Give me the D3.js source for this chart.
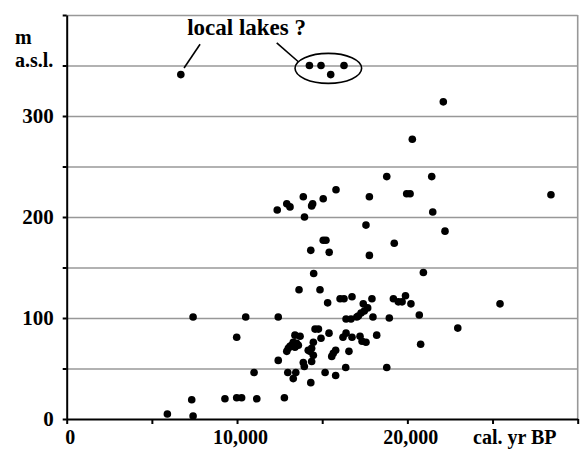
<!DOCTYPE html>
<meta charset="utf-8">
<script src="https://d3js.org/d3.v7.min.js"></script>
<style>
body { margin: 0; background: #fff; }
svg { font-family: "Liberation Serif", "Times New Roman", serif; font-weight: bold; }
.grid line { stroke: #989898; stroke-width: 1.6; }
.grid path { display: none; }
.axis path, .axis line { stroke: #000; stroke-width: 2; }
.axis text { font-family: "Liberation Serif", serif; font-size: 21px; font-weight: bold; fill: #000; }
.label { font-size: 20px; fill: #000; }
</style>
<body>
<div id="chart"></div>
<script>

// cal. yr BP of each sample
var ages = [
  6700, 14250, 14930, 15500, 16280, 22110, 20290, 18790, 21430, 19960,
  20160, 28430, 21490, 22210, 19230, 20940, 12360, 12920, 13110, 13890,
  14380, 14440, 15060, 15810, 17770, 13960, 17570, 15060, 15220, 14330,
  15410, 17770, 14500, 13640, 14870, 15320, 16050, 16280, 16750, 17920,
  17410, 17670, 17470, 17280, 17120, 17030, 19180, 19470, 19690, 19890,
  20210, 25440, 18940, 20700, 22960, 20780, 18790, 17980, 16400, 16690,
  16220, 16400, 16750, 17220, 17340, 17570, 18200, 14930, 15400, 14580,
  14780, 13400, 13700, 13300, 13500, 13210, 13110, 13010, 12920, 13400,
  13600, 14480, 14380, 14280, 14180, 14480, 14380, 13890, 13950, 12420,
  15790, 15650, 15560, 16570, 12980, 13450, 13300, 15170, 15790, 14330,
  12780, 16380, 12420, 10510, 7420, 9980, 11000, 9290, 9980, 10270,
  11160, 7340, 5910, 7420
];

// m a.s.l. of each sample
var elevations = [
  341, 350, 350, 341, 350, 314, 277, 240, 240, 223,
  223, 222, 205, 186, 174, 145, 207, 213, 210, 220,
  211, 213, 218, 227, 220, 200, 192, 177, 177, 167,
  165, 162, 144, 128, 128, 115, 119, 119, 121, 119,
  114, 110, 107, 105, 102, 101, 119, 116, 116, 122,
  114, 114, 100, 103, 90, 74, 51, 101, 99, 99,
  81, 85, 81, 82, 77, 76, 83, 80, 85, 89,
  89, 83, 82, 76, 75, 73, 72, 70, 67, 71,
  73, 76, 70, 67, 68, 63, 57, 56, 52, 58,
  68, 65, 62, 67, 46, 46, 40, 46, 43, 36,
  21, 51, 101, 101, 101, 81, 46, 20, 21, 21,
  20, 19, 5, 3
];

var xTicks = [0, 5000, 10000, 15000, 20000, 25000, 30000];
var xLabels = {0: "0", 10000: "10,000", 20000: "20,000"};
var yTicks = [0, 50, 100, 150, 200, 250, 300, 350, 400];
var yLabels = {0: "0", 100: "100", 200: "200", 300: "300"};

var width = 580, height = 449;

var svg = d3.select("#chart").append("svg")
  .attr("width", width)
  .attr("height", height);

var x = d3.scaleLinear().domain([0, 30000]).range([66.7, 577.7]);
var y = d3.scaleLinear().domain([0, 400]).range([419, 15]);

// grey grid lines
svg.append("g")
  .attr("class", "grid")
  .attr("transform", "translate(" + x(0) + ",0)")
  .call(d3.axisLeft(y).tickValues(yTicks.slice(1)).tickSize(-(x(30000) - x(0))).tickFormat(""));

svg.append("line")
  .attr("x1", x(30000)).attr("x2", x(30000))
  .attr("y1", y(0)).attr("y2", y(400))
  .attr("stroke", "#989898")
  .attr("stroke-width", 1.6);

// axes
svg.append("g")
  .attr("class", "axis")
  .attr("transform", "translate(" + x(0) + ",0)")
  .call(d3.axisLeft(y).tickValues(yTicks).tickSize(4).tickSizeOuter(0).tickPadding(9)
    .tickFormat(function(d) { return yLabels[d] || ""; }));

svg.append("g")
  .attr("class", "axis")
  .attr("transform", "translate(0," + y(0) + ")")
  .call(d3.axisBottom(x).tickValues(xTicks).tickSize(5).tickSizeOuter(0).tickPadding(6)
    .tickFormat(function(d) { return xLabels[d] || ""; }))
  .selectAll("text")
    .style("font-size", "20px")
    .attr("dx", 3);

svg.append("text").attr("class", "label").attr("x", 15).attr("y", 44).text("m");
svg.append("text").attr("class", "label").attr("x", 15).attr("y", y(350) + 1).text("a.s.l.");
svg.append("text").attr("class", "label").attr("x", 473).attr("y", 444).text("cal. yr BP");

// points
svg.append("g")
  .selectAll("circle")
  .data(ages)
  .enter()
  .append("circle")
    .attr("cx", function(d) { return x(d); })
    .attr("cy", function(d, i) { return y(elevations[i]); })
    .attr("r", 3.8)
    .attr("fill", "#000");

// "local lakes ?" note
svg.append("text")
  .attr("x", x(7075))
  .attr("y", y(380))
  .style("font-size", "23px")
  .text("local lakes ?");

svg.append("line")
  .attr("x1", x(7830)).attr("y1", y(371))
  .attr("x2", x(6890)).attr("y2", y(347.5))
  .attr("stroke", "#000").attr("stroke-width", 1.6);

svg.append("line")
  .attr("x1", x(12330)).attr("y1", y(372.5))
  .attr("x2", x(13600)).attr("y2", y(353.7))
  .attr("stroke", "#000").attr("stroke-width", 1.6);

svg.append("ellipse")
  .attr("cx", x(15360))
  .attr("cy", y(347.2))
  .attr("rx", x(15360 + 1955) - x(15360))
  .attr("ry", y(347.2 - 14.85) - y(347.2))
  .attr("fill", "none")
  .attr("stroke", "#000")
  .attr("stroke-width", 1.6);

</script>
</body>
